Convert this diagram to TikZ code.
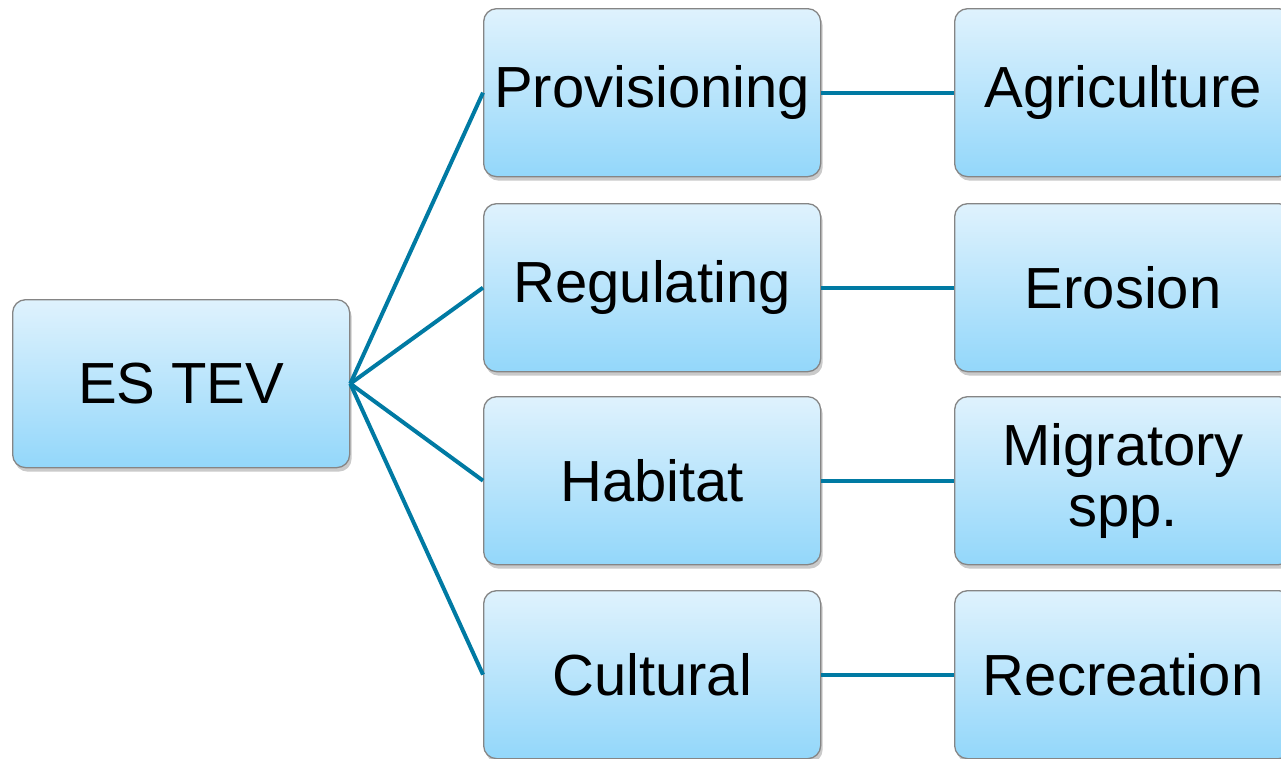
\documentclass[tikz,border=0pt]{standalone}
\usepackage{fontspec}
\setmainfont{Liberation Sans}
\usetikzlibrary{shadows}
\definecolor{conncol}{HTML}{007AA3}
\definecolor{boxtop}{HTML}{DFF2FD}
\definecolor{boxbot}{HTML}{93D7FA}
\definecolor{boxedge}{HTML}{858585}
\tikzset{
  box/.style={draw=boxedge, line width=1.3pt, rounded corners=13pt,
    top color=boxtop, bottom color=boxbot, shading angle=0,
    minimum width=337pt, minimum height=168pt, inner sep=0pt,
    align=center, font=\fontsize{58}{61}\selectfont, anchor=north west,
    drop shadow={shadow xshift=2pt, shadow yshift=-4pt, opacity=0.35, fill=black!60}},
  conn/.style={draw=conncol, line width=4pt}
}
\begin{document}
\begin{tikzpicture}[x=1pt,y=-1pt]
\useasboundingbox (0,0) rectangle (1281,758);
\clip (0,0) rectangle (1281,758);
\node[box] (es) at (12,299) {ES TEV};
\node[box] (prov) at (483,8) {Provisioning};
\node[box] (reg) at (483,203) {Regulating};
\node[box] (hab) at (483,396) {Habitat};
\node[box] (cul) at (483,590) {Cultural};
\node[box] (agr) at (954,8) {Agriculture};
\node[box] (ero) at (954,203) {Erosion};
\node[box] (mig) at (954,396) {Migratory\\spp.};
\node[box] (rec) at (954,590) {Recreation};
\draw[conn] (es.east) -- (prov.west);
\draw[conn] (es.east) -- (reg.west);
\draw[conn] (es.east) -- (hab.west);
\draw[conn] (es.east) -- (cul.west);
\draw[conn] (prov.east) -- (agr.west);
\draw[conn] (reg.east) -- (ero.west);
\draw[conn] (hab.east) -- (mig.west);
\draw[conn] (cul.east) -- (rec.west);
\end{tikzpicture}
\end{document}
